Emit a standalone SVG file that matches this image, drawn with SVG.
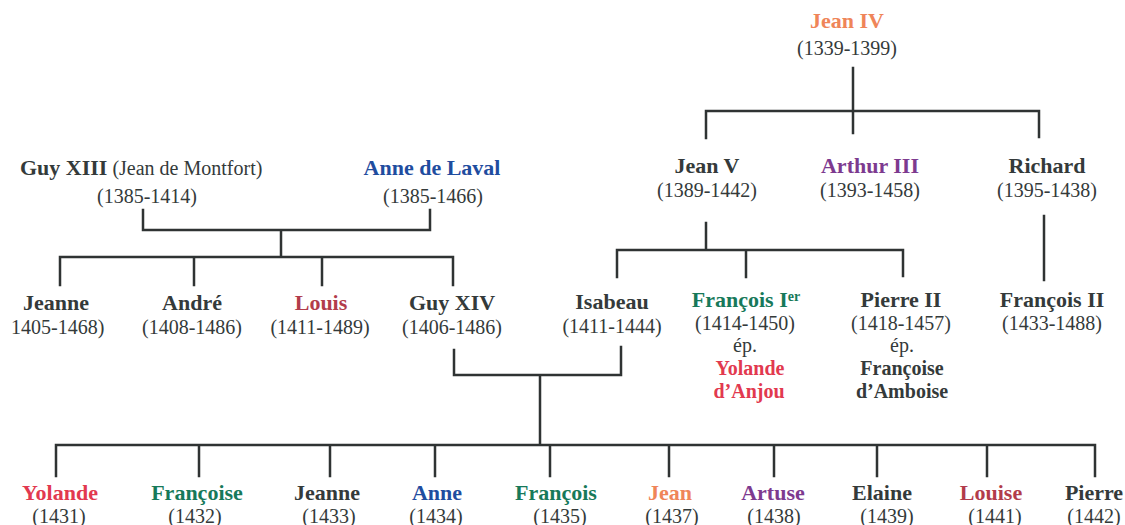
<svg xmlns="http://www.w3.org/2000/svg" width="1125" height="525" viewBox="0 0 1125 525">
<style>
text,tspan{font-family:"Liberation Serif","DejaVu Serif",serif}
text{text-anchor:middle;fill:#343a3a}
.n{font-weight:bold;font-size:22px}
.m{font-weight:bold;font-size:20px}
.d{font-size:20px;font-weight:normal}
.s{font-size:20px}
.orange{fill:#ef8559}
.purple{fill:#7d3a8f}
.blue{fill:#1f4d9f}
.red{fill:#b23c4b}
.green{fill:#17795a}
.crimson{fill:#e2394f}
.links path{fill:none;stroke:#2f3333;stroke-width:2.5;stroke-linecap:square}
</style>
<rect width="1125" height="525" fill="#ffffff"/>
<g class="links">
<path d="M853,68V133M706,138V111H1039V137"/>
<path d="M706,223V250M617,277V250H903V276M746,250V277"/>
<path d="M1044,216V280"/>
<path d="M143,210V230H430V210M281,230V257M60,285V257H453V285M194,257V285M322,257V285"/>
<path d="M454,350V375H621V347M540,375V445M56,476V445H1095V476M199,445V476M330,445V476M435,445V476M550,445V476M669,445V476M774,445V476M877,445V476M987,445V476"/>
</g>
<g id="jean4"><text class="n orange" x="847" y="28">Jean IV</text><text class="d" x="847" y="55">(1339-1399)</text></g>
<g id="jean5"><text class="n" x="707" y="173">Jean V</text><text class="d" x="707" y="197">(1389-1442)</text></g>
<g id="arthur3"><text class="n purple" x="870" y="173">Arthur III</text><text class="d" x="870" y="197">(1393-1458)</text></g>
<g id="richard"><text class="n" x="1047" y="173">Richard</text><text class="d" x="1047" y="197">(1395-1438)</text></g>
<g id="guy13"><text x="20" y="175" style="text-anchor:start"><tspan class="n">Guy XIII</tspan><tspan class="d" font-size="21"> (Jean de Montfort)</tspan></text><text class="d" x="147" y="203">(1385-1414)</text></g>
<g id="annelaval"><text class="n blue" x="432" y="175">Anne de Laval</text><text class="d" x="433" y="203">(1385-1466)</text></g>
<g id="jeanne1"><text class="n" x="56" y="310">Jeanne</text><text class="d" x="11" y="334" style="text-anchor:start">1405-1468)</text></g>
<g id="andre"><text class="n" x="192" y="310">André</text><text class="d" x="192" y="334">(1408-1486)</text></g>
<g id="louis"><text class="n red" x="321" y="310">Louis</text><text class="d" x="320" y="334">(1411-1489)</text></g>
<g id="guy14"><text class="n" x="452" y="310">Guy XIV</text><text class="d" x="452" y="334">(1406-1486)</text></g>
<g id="isabeau"><text class="n" x="612" y="309">Isabeau</text><text class="d" x="612" y="333">(1411-1444)</text></g>
<g id="francois1"><text class="n green" x="746" y="307">François I<tspan font-size="14" dy="-6">er</tspan></text><text class="d" x="745" y="330">(1414-1450)</text><text class="s" x="745" y="352">ép.</text><text class="m crimson" x="750" y="375">Yolande</text><text class="m crimson" x="749" y="398">d’Anjou</text></g>
<g id="pierre2"><text class="n" x="901" y="307">Pierre II</text><text class="d" x="901" y="330">(1418-1457)</text><text class="s" x="902" y="352">ép.</text><text class="m" x="902" y="375">Françoise</text><text class="m" x="902" y="398">d’Amboise</text></g>
<g id="francois2"><text class="n" x="1052" y="307">François II</text><text class="d" x="1052" y="330">(1433-1488)</text></g>
<g id="c1"><text class="n crimson" x="60" y="500">Yolande</text><text class="d" x="59" y="523">(1431)</text></g>
<g id="c2"><text class="n green" x="197" y="500">Françoise</text><text class="d" x="195" y="523">(1432)</text></g>
<g id="c3"><text class="n" x="327" y="500">Jeanne</text><text class="d" x="329" y="523">(1433)</text></g>
<g id="c4"><text class="n blue" x="437" y="500">Anne</text><text class="d" x="436" y="523">(1434)</text></g>
<g id="c5"><text class="n green" x="556" y="500">François</text><text class="d" x="560" y="523">(1435)</text></g>
<g id="c6"><text class="n orange" x="670" y="500">Jean</text><text class="d" x="672" y="523">(1437)</text></g>
<g id="c7"><text class="n purple" x="773" y="500">Artuse</text><text class="d" x="774" y="523">(1438)</text></g>
<g id="c8"><text class="n" x="882" y="500">Elaine</text><text class="d" x="887" y="523">(1439)</text></g>
<g id="c9"><text class="n red" x="991" y="500">Louise</text><text class="d" x="995" y="523">(1441)</text></g>
<g id="c10"><text class="n" x="1094" y="500">Pierre</text><text class="d" x="1094" y="523">(1442)</text></g>
</svg>
